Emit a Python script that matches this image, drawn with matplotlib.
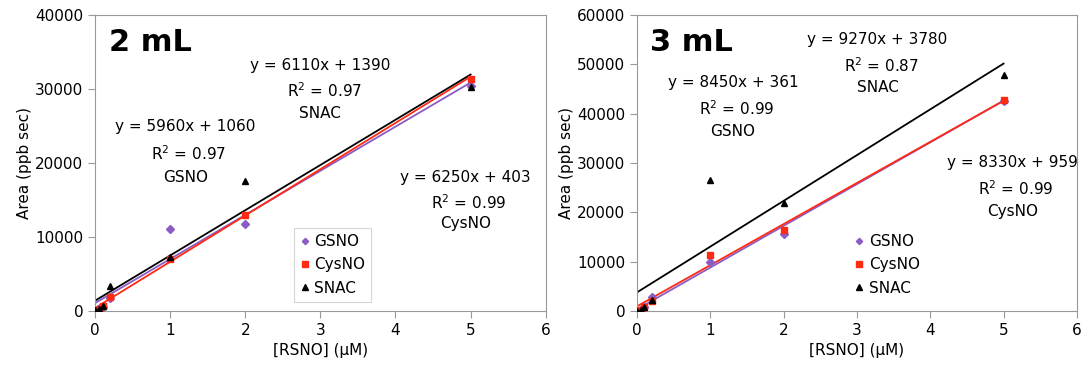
import numpy as np
import matplotlib
matplotlib.use("Agg")
from matplotlib import pyplot as plt

plt.rcParams['font.family'] = ['DejaVu Sans']

# concentrations of RSNO (uM)
conc = [0, 0.05, 0.1, 0.2, 1, 2, 5]

# 2 mL panel
gsno_2 = [0, 300, 500, 1800, 11100, 11700, 30400]
cysno_2 = [0, 200, 700, 1900, 7000, 13000, 31400]
snac_2 = [100, 300, 700, 3400, 7300, 17600, 30300]
fit_2 = {'GSNO': (5960, 1060, 0.97), 'CysNO': (6250, 403, 0.99), 'SNAC': (6110, 1390, 0.97)}

# 3 mL panel
gsno_3 = [0, 300, 800, 2800, 10000, 15700, 42500]
cysno_3 = [0, 300, 900, 2000, 11300, 16500, 42800]
snac_3 = [0, 300, 800, 2200, 26600, 21800, 47800]
fit_3 = {'GSNO': (8450, 361, 0.99), 'CysNO': (8330, 959, 0.99), 'SNAC': (9270, 3780, 0.87)}

styles = {
    'GSNO': dict(color='#8a5cc4', marker='D', ms=4),
    'CysNO': dict(color='#ff2a14', marker='s', ms=5),
    'SNAC': dict(color='black', marker='^', ms=5),
}


def draw_panel(ax, series, fits, ymax, ystep, title, label_pos, leg_x, leg_frame):
    xs = np.array([0, 5])
    for name, ys in series.items():
        st = styles[name]
        ax.plot(conc, ys, linestyle='none', marker=st['marker'], color=st['color'],
                markersize=st['ms'], label=name, zorder=3)
    # trendlines
    for name in ['GSNO', 'CysNO', 'SNAC']:
        m, b, r2 = fits[name]
        ax.plot(xs, m * xs + b, color=styles[name]['color'], lw=1.3, zorder=2)
        px, py, dy = label_pos[name]
        ax.text(px, py, f"y = {m}x + {b}", ha='center', va='center', fontsize=11)
        ax.text(px + 0.05, py - dy, f"R$^2$ = {r2:.2f}", ha='center', va='center', fontsize=11)
        ax.text(px, py - 2 * dy * 0.93, name, ha='center', va='center', fontsize=11)

    ax.set_xlim(0, 6)
    ax.set_ylim(0, ymax)
    ax.set_xticks(range(0, 7))
    ax.set_yticks(np.arange(0, ymax + 1, ystep))
    ax.tick_params(direction='out', length=5, color='#999999', labelsize=11)
    for sp in ax.spines.values():
        sp.set_color('#999999')
    ax.set_xlabel('[RSNO] (\u03bcM)', fontsize=11)
    ax.set_ylabel('Area (ppb sec)', fontsize=11, labelpad=2)
    ax.text(0.03, 0.955, title, transform=ax.transAxes, fontsize=22, fontweight='bold',
            ha='left', va='top')
    leg = ax.legend(loc='lower left', bbox_to_anchor=(leg_x, 0.005), fontsize=11, frameon=leg_frame,
                    fancybox=False, handletextpad=0.3, handlelength=0.6, borderpad=0.4,
                    labelspacing=0.55, markerscale=0.8)
    if leg_frame:
        leg.get_frame().set_edgecolor('#cccccc')
        leg.get_frame().set_linewidth(0.8)


fig = plt.figure(figsize=(10.86, 3.72), dpi=100)
ax1 = fig.add_axes([0.0875, 0.164, 0.415, 0.796])
ax2 = fig.add_axes([0.5866, 0.164, 0.405, 0.796])

draw_panel(ax1, {'GSNO': gsno_2, 'CysNO': cysno_2, 'SNAC': snac_2}, fit_2, 40000, 10000, '2 mL',
           {'SNAC': (3.0, 33200, 3500), 'GSNO': (1.2, 24900, 3700), 'CysNO': (4.93, 18100, 3400)},
           0.425, True)
draw_panel(ax2, {'GSNO': gsno_3, 'CysNO': cysno_3, 'SNAC': snac_3}, fit_3, 60000, 10000, '3 mL',
           {'SNAC': (3.28, 55000, 5200), 'GSNO': (1.31, 46200, 5300), 'CysNO': (5.12, 30000, 5300)},
           0.464, False)

fig.savefig('out.png', dpi=100)
